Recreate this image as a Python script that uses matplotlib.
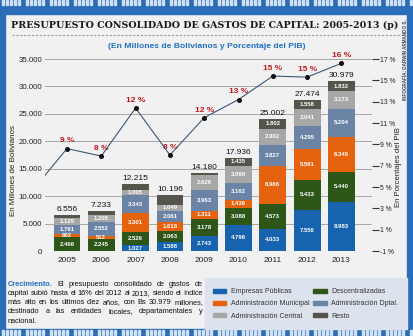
import matplotlib
matplotlib.use("Agg")
import matplotlib.pyplot as plt
from matplotlib.patches import Rectangle, Patch
import numpy as np

# Data (millions of Bs)
years = [2005, 2006, 2007, 2008, 2009, 2010, 2011, 2012, 2013]
totals = [6556, 7233, 12215, 10196, 14180, 17936, 25002, 27474, 30979]
empresas = [0, 0, 1027, 1588, 2743, 4796, 4033, 7556, 8983]
descentralizadas = [2466, 2245, 2526, 2063, 3178, 3088, 4573, 5433, 5440]
municipal = [602, 512, 3301, 1618, 1311, 1436, 6966, 5591, 6345]
departamental = [1761, 2552, 3343, 2061, 3963, 3162, 3827, 4295, 5204]
central = [1129, 1205, 1005, 1049, 2626, 3099, 2902, 3041, 3173]
resto = [598, 719, 1013, 1817, 359, 1435, 1802, 1558, 1832]
resto_labelled = [False, False, False, False, False, True, True, True, True]

# % del PIB (line); 2004 only gives the lead-in segment at the left edge
pib_years = [2004, 2005, 2006, 2007, 2008, 2009, 2010, 2011, 2012, 2013]
pib = [4.7, 8.6, 7.9, 12.4, 8.0, 11.5, 13.2, 15.4, 15.3, 16.6]
pib_labels = ["9 %", "8 %", "12 %", "8 %", "12 %", "13 %", "15 %", "15 %", "16 %"]

series = [
    ("Empresas Públicas", empresas, "#1763ad"),
    ("Descentralizadas", descentralizadas, "#2f5619"),
    ("Administración Municipal", municipal, "#e5630f"),
    ("Administración Dptal.", departamental, "#6b84a6"),
    ("Administración Central", central, "#a7a7a7"),
    ("Resto", resto, "#56554b"),
]

W, H = 414, 336


def fx(px):
    return px / W


def fy(py):
    return 1 - py / H


def fmt(v):
    return f"{v:,}".replace(",", ".")


plt.rcParams["font.family"] = ["Liberation Sans", "DejaVu Sans"]

fig = plt.figure(figsize=(W / 100, H / 100), dpi=100, facecolor="#f1f1f1")
renderer = fig.canvas.get_renderer()

# blue stitched frame
blue = "#2b6db8"
for x0, y0, w, h in [(0, 0, W, 14), (0, 329, W, 7), (0, 0, 5, H), (407, 0, 7, H)]:
    fig.patches.append(Rectangle((fx(x0), fy(y0 + h)), w / W, h / H,
                                 transform=fig.transFigure, color=blue, zorder=0))
for i, x in enumerate(np.arange(2, W, 4.0)):
    if i % 6 == 5:
        continue
    for y0, h in [(0, 5), (330, 5)]:
        fig.patches.append(Rectangle((fx(x), fy(y0 + h)), 1.6 / W, h / H,
                                     transform=fig.transFigure, color="#cfe0f5", zorder=1))

# legend background
fig.patches.append(Rectangle((fx(205), fy(329)), 202 / W, 51 / H,
                             transform=fig.transFigure, color="#dde3ec", zorder=0))

# titles
title = fig.text(fx(205), fy(25), "PRESUPUESTO CONSOLIDADO DE GASTOS DE CAPITAL: 2005-2013 (p)",
                 family="DejaVu Serif", weight="bold", fontsize=7.6, ha="center", va="center",
                 color="#1a1a1a")
tw = title.get_window_extent(renderer).width
title.set_fontsize(7.6 * 386 / tw)
fig.add_artist(plt.Line2D([fx(12), fx(400)], [fy(35), fy(35)], transform=fig.transFigure,
                          color="#9a9a9a", lw=0.8, ls=(0, (2, 1.5))))
fig.text(fx(207), fy(46), "(En Millones de Bolivianos y Porcentaje del PIB)",
         fontsize=6.1, weight="bold", color="#1f6fc2", ha="center", va="center")
fig.text(fx(405), fy(60), "INFOGRAFÍA: DARWIN ARMANDO S.", rotation=90, fontsize=3.3,
         weight="bold", color="#444", ha="center", va="center")
fig.text(fx(14), fy(170), "En Millones de Bolivianos", rotation=90, fontsize=5.8,
         ha="center", va="center", color="#222")
fig.text(fx(399), fy(167), "En Porcentajes del PIB", rotation=90, fontsize=5.6,
         ha="center", va="center", color="#222")

# main axes
ax = fig.add_axes([fx(45), fy(251), (372 - 45) / W, (251 - 59) / H])
ax.set_facecolor("none")
ax.set_xlim(2004.36, 2013.89)
ax.set_ylim(0, 35000)
ax.set_yticks(range(0, 35001, 5000))
ax.set_yticklabels([fmt(v) for v in range(0, 35001, 5000)])
ax.set_xticks(years)
ax.tick_params(axis="both", length=0, labelsize=5.7, colors="#222")
ax.tick_params(axis="y", pad=2)
ax.tick_params(axis="x", pad=4, labelsize=6)
ax.grid(axis="y", color="#9c9c9c", lw=0.6)
ax.set_axisbelow(True)
for s in ax.spines.values():
    s.set_visible(False)

bottom = np.zeros(len(years))
handles = []
for name, vals, color in series:
    vals = np.array(vals)
    ax.bar(years, vals, bottom=bottom, width=0.78, color=color, zorder=2)
    for i, v in enumerate(vals):
        show = v > 0 and (name != "Resto" or resto_labelled[i])
        if show:
            ax.text(years[i], bottom[i] + v / 2, fmt(int(v)), ha="center", va="center",
                    fontsize=4.3, color="white", weight="bold", zorder=3)
    bottom += vals
    handles.append(Patch(color=color, label=name))

for i, yr in enumerate(years):
    ax.annotate(fmt(totals[i]), (yr, bottom[i]), xytext=(0, 1.5), textcoords="offset points",
                ha="center", va="bottom", fontsize=6, color="#111", zorder=4)

# right axis: % del PIB
ax2 = ax.twinx()
ax2.set_ylim(-1, 17)
ax2.set_yticks(range(-1, 18, 2))
ax2.set_yticklabels([f"{v} %" for v in range(-1, 18, 2)])
ax2.tick_params(axis="y", length=5, width=0.8, color="#333", labelsize=4.9, pad=1,
                labelcolor="#222")
for s in ax2.spines.values():
    s.set_visible(False)
ax2.plot(pib_years, pib, color="#3b5878", lw=0.8, marker="o", ms=2.6,
         mfc="#111", mec="#111", zorder=5)
for yr, v, lab in zip(pib_years[1:], pib[1:], pib_labels):
    ax2.annotate(lab, (yr, v), xytext=(0, 3), textcoords="offset points", ha="center",
                 va="bottom", fontsize=6, weight="bold", color="#c4161c")

# legend
order = [0, 2, 4, 1, 3, 5]
fig.legend([handles[i] for i in order], [handles[i].get_label() for i in order],
           loc="upper left", bbox_to_anchor=(fx(207), fy(282)), ncol=2, frameon=False,
           fontsize=5, handlelength=1.9, handleheight=0.6, labelspacing=0.75,
           columnspacing=0.5, handletextpad=0.7, labelcolor="#333")

# paragraph, justified by hand
lines = [
    ["Crecimiento.", "El", "presupuesto", "consolidado", "de", "gastos", "de"],
    ["capital", "subió", "hasta", "el", "16%", "del", "2012", "al", "2013,", "siendo", "el", "índice"],
    ["más", "alto", "en", "los", "últimos", "diez", "años,", "con", "Bs", "30.979", "millones,"],
    ["destinado", "a", "las", "entidades", "locales,", "departamentales", "y"],
    ["nacional."],
]
x_left, x_right = 8, 203
min_gap = 1.8
all_words = []
for li, words in enumerate(lines):
    ypx = 285.5 + li * 9.3
    row = []
    for w in words:
        first = w == "Crecimiento."
        t = fig.text(0, fy(ypx), w, fontsize=5.6, ha="left", va="baseline",
                     color="#1f6fc2" if first else "#111", weight="bold" if first else "normal")
        row.append(t)
    all_words.append(row)

# shrink the body size until every full line fits with a small gap
size = 5.6
while size > 4.0:
    ok = True
    for row in all_words[:-1]:
        for t in row:
            t.set_fontsize(size)
        widths = [t.get_window_extent(renderer).width for t in row]
        if (x_right - x_left - sum(widths)) / (len(row) - 1) < min_gap:
            ok = False
            break
    if ok:
        break
    size -= 0.1

for li, row in enumerate(all_words):
    for t in row:
        t.set_fontsize(size)
    widths = [t.get_window_extent(renderer).width for t in row]
    if li < len(all_words) - 1:
        gap = (x_right - x_left - sum(widths)) / (len(row) - 1)
    else:
        gap = 2.0
    x = x_left
    for t, w in zip(row, widths):
        t.set_x(fx(x))
        x += w + gap

fig.savefig("out.png", dpi=100, facecolor=fig.get_facecolor())
